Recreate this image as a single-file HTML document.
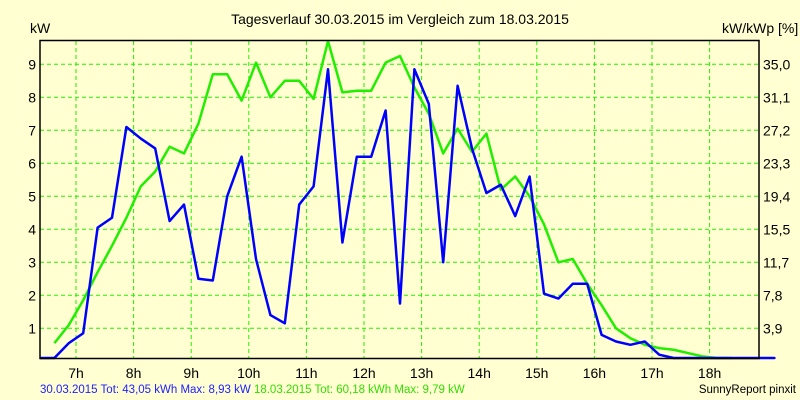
<!DOCTYPE html>
<html><head><meta charset="utf-8"><style>
body{margin:0;background:#ffffd2;}
svg{display:block;font-family:"Liberation Sans",sans-serif;}
</style></head><body>
<svg width="800" height="400">
<rect width="800" height="400" fill="#ffffd2"/>
<text x="400" y="24" text-anchor="middle" font-size="14">Tagesverlauf 30.03.2015 im Vergleich zum 18.03.2015</text>
<text x="30" y="33" font-size="14">kW</text>
<text x="722" y="33" font-size="14">kW/kWp [%]</text>
<g id="grid"></g>
<g id="series"></g>
<rect x="40" y="40.5" width="719" height="318" fill="none" stroke="#000" stroke-width="1.5"/>
<g id="labels" font-size="14"></g>
<text x="40" y="393" font-size="11.5"><tspan fill="#2020ff">30.03.2015 Tot: 43,05 kWh Max: 8,93 kW </tspan><tspan fill="#33dd00">18.03.2015 Tot: 60,18 kWh Max: 9,79 kW</tspan></text>
<text x="796" y="393" text-anchor="end" font-size="11.5">SunnyReport pinxit</text>
</svg>
<script>
const hourTicks=[7,8,9,10,11,12,13,14,15,16,17,18];
const kwTicks=[1,2,3,4,5,6,7,8,9];
const pctLabels=["3,9","7,8","11,7","15,5","19,4","23,3","27,2","31,1","35,0"];
const startTime=6.625, stepH=0.25;
const blueValues=[0,0.55,0.85,4.05,4.35,7.1,6.75,6.45,4.25,4.75,2.5,2.45,5.0,6.2,3.1,1.4,1.15,4.75,5.3,8.85,3.6,6.2,6.2,7.6,1.75,8.85,7.8,3.0,8.35,6.45,5.1,5.35,4.4,5.6,2.05,1.9,2.35,2.35,0.8,0.6,0.5,0.6,0.2,0.05,0,0,0,0,0,0,0];
const greenValues=[0.55,1.1,1.85,2.7,3.5,4.35,5.3,5.75,6.5,6.3,7.2,8.7,8.7,7.9,9.05,8.0,8.5,8.5,7.95,9.75,8.15,8.2,8.2,9.05,9.25,8.3,7.5,6.3,7.05,6.35,6.9,5.2,5.6,5.0,4.15,3.0,3.1,2.35,1.7,1.0,0.7,0.5,0.4,0.35,0.25,0.15,0.05,0.05];
const NS="http://www.w3.org/2000/svg";
const X=h=>76+57.6*(h-7);
const Y=v=>Math.max(41,Math.min(358,361.3-33*v));
function mk(t,a,p){const e=document.createElementNS(NS,t);for(const k in a)e.setAttribute(k,a[k]);p.appendChild(e);return e;}
const grid=document.getElementById('grid'),lab=document.getElementById('labels'),ser=document.getElementById('series');
hourTicks.forEach(h=>{
 const l=mk('line',{x1:X(h),x2:X(h),y1:41,y2:358,stroke:'#22ee00','stroke-dasharray':'4,3'},grid);
 
 
 const t=mk('text',{x:X(h),y:378,'text-anchor':'middle'},lab);t.textContent=h+'h';
 
 
});
kwTicks.forEach((v,i)=>{
 const l=mk('line',{x1:40,x2:759,y1:Y(v),y2:Y(v),stroke:'#22ee00','stroke-dasharray':'4,3'},grid);
 
 
 const t=mk('text',{x:36,y:Y(v)+5,'text-anchor':'end'},lab);t.textContent=v;
 
 
 const r=mk('text',{x:763,y:Y(v)+5},lab);r.textContent=pctLabels[i];
 
 
});
function line(vals,color,name,lead){
 const pts=[];if(lead)pts.push([40,Y(0)]);
 vals.forEach((v,i)=>pts.push([X(startTime+i*stepH),Y(v)]));
 if(lead)pts.push([759,Y(0)]);
 const p=mk('polyline',{points:pts.map(p=>p.join(',')).join(' '),fill:'none',stroke:color,'stroke-width':2.5,'stroke-linejoin':'round'},ser);
 
 
}
line(greenValues,'#22ee00','series-18-03-2015',false);
line(blueValues,'#0000ff','series-30-03-2015',true);
</script>
</body></html>
